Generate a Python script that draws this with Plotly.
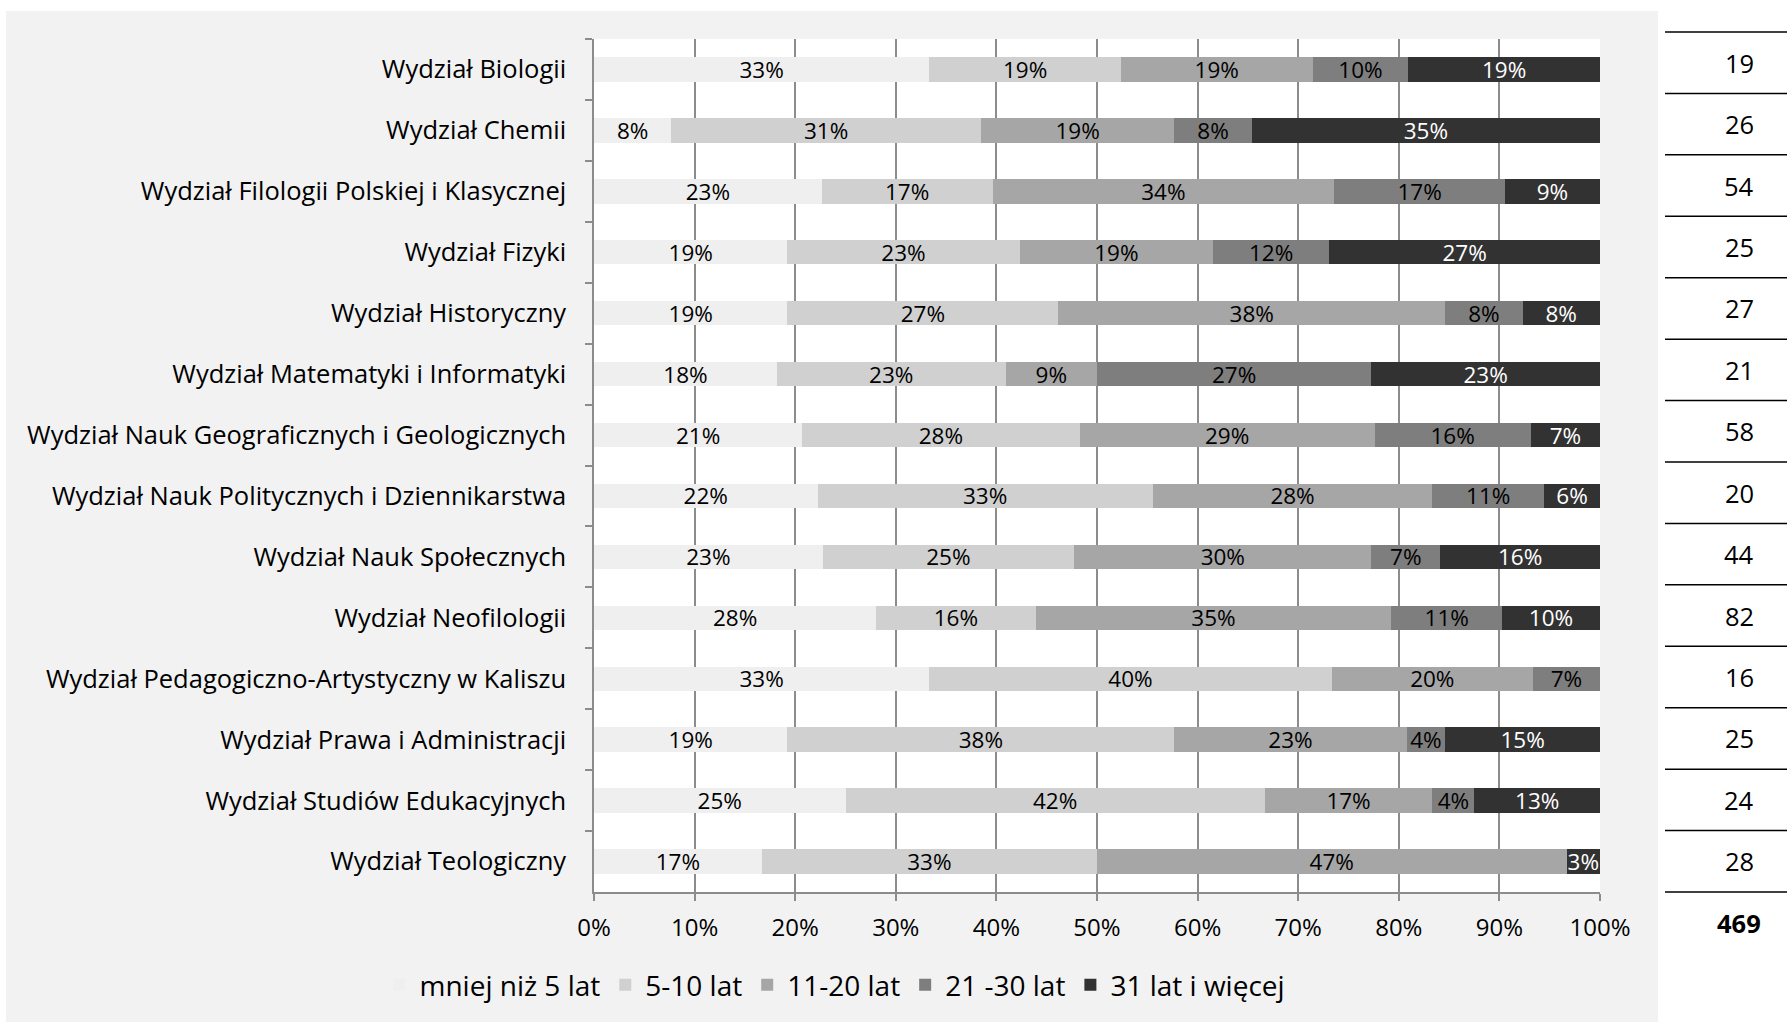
import plotly.graph_objects as go

categories = [
    "Wydział Biologii",
    "Wydział Chemii",
    "Wydział Filologii Polskiej i Klasycznej",
    "Wydział Fizyki",
    "Wydział Historyczny",
    "Wydział Matematyki i Informatyki",
    "Wydział Nauk Geograficznych i Geologicznych",
    "Wydział Nauk Politycznych i Dziennikarstwa",
    "Wydział Nauk Społecznych",
    "Wydział Neofilologii",
    "Wydział Pedagogiczno-Artystyczny w Kaliszu",
    "Wydział Prawa i Administracji",
    "Wydział Studiów Edukacyjnych",
    "Wydział Teologiczny",
]

series_names = ["mniej niż 5 lat", "5-10 lat", "11-20 lat", "21 -30 lat", "31 lat i więcej"]

s_lt5 = [33.33, 7.69, 22.64, 19.23, 19.23, 18.18, 20.69, 22.22, 22.73, 28.05, 33.33, 19.23, 25.00, 16.67]
s_5_10 = [19.05, 30.77, 16.98, 23.08, 26.92, 22.73, 27.59, 33.33, 25.00, 15.85, 40.00, 38.46, 41.67, 33.33]
s_11_20 = [19.05, 19.23, 33.96, 19.23, 38.46, 9.09, 29.31, 27.78, 29.55, 35.37, 20.00, 23.08, 16.67, 46.67]
s_21_30 = [9.52, 7.69, 16.98, 11.54, 7.69, 27.27, 15.52, 11.11, 6.82, 10.98, 6.67, 3.85, 4.17, 0.0]
s_31 = [19.05, 34.62, 9.43, 26.92, 7.69, 22.73, 6.90, 5.56, 15.91, 9.76, 0.0, 15.38, 12.50, 3.33]

counts = [19, 26, 54, 25, 27, 21, 58, 20, 44, 82, 16, 25, 24, 28]
total = 469

x_ticks = [0, 10, 20, 30, 40, 50, 60, 70, 80, 90, 100]
x_ticklabels = [f"{t}%" for t in x_ticks]

series_values = [s_lt5, s_5_10, s_11_20, s_21_30, s_31]
colors = ["#efefef", "#d0d0d0", "#a6a6a6", "#7e7e7e", "#323232"]
text_colors = ["#000000", "#000000", "#000000", "#000000", "#ffffff"]

FONT = "Open Sans"
FS_CAT = 25.5
FS_LBL = 22.5
FS_TICK = 24
FS_LEG = 28
FS_TAB = 25.5

W, H = 1787, 1022
L, R, T, B = 594, 1600, 39, 892  # plot area in pixels
PW, PH = R - L, B - T


def px_x(px):
    return (px - L) / PW


def px_y(py):
    return (B - py) / PH


fig = go.Figure()

for name, vals, col, tcol in zip(series_names, series_values, colors, text_colors):
    labels = [f"{int(v + 0.5)}%" if v > 0 else "" for v in vals]
    fig.add_trace(go.Bar(
        y=categories, x=vals, name=name, orientation="h",
        marker=dict(color=col, line=dict(width=0)),
        text=labels, textposition="inside", insidetextanchor="middle",
        textangle=0, constraintext="none",
        textfont=dict(family=FONT, size=FS_LBL, color=tcol),
        width=0.4, hoverinfo="skip",
    ))

shapes = []
shapes.append(dict(type="rect", xref="paper", yref="paper",
                   x0=px_x(6), x1=px_x(1658), y0=px_y(1022), y1=px_y(11),
                   fillcolor="#f2f2f2", line=dict(width=0), layer="below"))
shapes.append(dict(type="rect", xref="x domain", yref="y domain",
                   x0=0, x1=1, y0=0, y1=1,
                   fillcolor="#ffffff", line=dict(width=0), layer="below"))

row_top, row_bot = 32, 892
n = len(counts)
rh = (row_bot - row_top) / n
annotations = []
for k in range(n + 1):
    yy = row_top + k * rh
    shapes.append(dict(type="line", xref="paper", yref="paper",
                       x0=px_x(1665), x1=px_x(1787), y0=px_y(yy), y1=px_y(yy),
                       line=dict(color="#000000", width=1.5)))
for i, c in enumerate(counts):
    yy = row_top + (i + 0.5) * rh
    annotations.append(dict(xref="paper", yref="paper", x=px_x(1739), y=px_y(yy),
                            text=str(c), showarrow=False,
                            font=dict(family=FONT, size=FS_TAB, color="#000000"),
                            xanchor="center", yanchor="middle"))
annotations.append(dict(xref="paper", yref="paper", x=px_x(1739), y=px_y(923),
                        text=f"<b>{total}</b>", showarrow=False,
                        font=dict(family=FONT, size=FS_TAB, color="#000000"),
                        xanchor="center", yanchor="middle"))

fig.update_layout(
    width=W, height=H,
    margin=dict(l=L, r=W - R, t=T, b=H - B, pad=0),
    barmode="stack",
    paper_bgcolor="#ffffff",
    plot_bgcolor="#ffffff",
    font=dict(family=FONT, size=FS_TICK, color="#000000"),
    shapes=shapes,
    annotations=annotations,
    showlegend=True,
    legend=dict(orientation="h", x=px_x(835), y=px_y(985),
                xanchor="center", yanchor="middle",
                bgcolor="rgba(0,0,0,0)", font=dict(family=FONT, size=FS_LEG),
                traceorder="normal", itemclick=False, itemdoubleclick=False),
)

fig.update_xaxes(
    range=[0, 100], tickmode="array", tickvals=x_ticks, ticktext=x_ticklabels,
    showgrid=True, gridcolor="#8c8c8c", gridwidth=1.5,
    showline=True, linecolor="#8c8c8c", linewidth=1.5,
    ticks="outside", ticklen=7, tickcolor="#8c8c8c", tickwidth=1.5,
    zeroline=False, fixedrange=True,
    tickfont=dict(family=FONT, size=FS_TICK), ticklabelstandoff=6,
)
fig.update_yaxes(
    autorange="reversed", type="category",
    showgrid=False, showline=True, linecolor="#8c8c8c", linewidth=1.5,
    ticks="outside", ticklen=7, tickcolor="#8c8c8c", tickwidth=1.5,
    tickson="boundaries", zeroline=False, fixedrange=True,
    tickfont=dict(family=FONT, size=FS_CAT), ticklabelstandoff=21,
)

fig.write_html("out.html", config={"displayModeBar": False},
               post_script="document.body.style.margin='0';")
